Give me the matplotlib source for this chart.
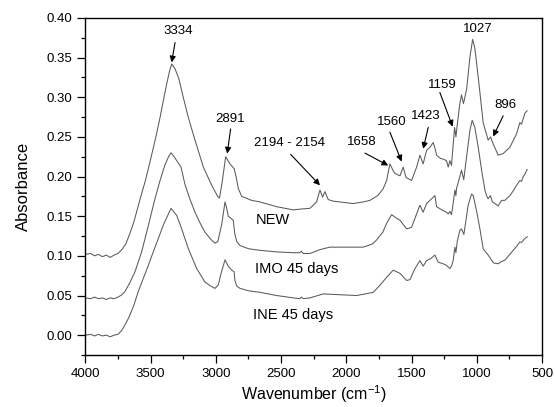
import matplotlib
matplotlib.use("Agg")
import matplotlib.pyplot as plt
from matplotlib.ticker import MultipleLocator

plt.rcParams['font.family'] = ['Liberation Sans', 'DejaVu Sans']
plt.rcParams['mathtext.default'] = 'regular'

# ---------------- data ----------------
new_x = [4000, 3960, 3930, 3900, 3870, 3840, 3810, 3780, 3750, 3720, 3690, 3660, 3630, 3600,
         3570, 3540, 3500, 3460, 3430, 3400, 3377, 3355, 3339, 3313, 3283, 3250, 3212, 3160,
         3096, 3032, 2986, 2972, 2950, 2925, 2892, 2860, 2845, 2828, 2802, 2726, 2662, 2534,
         2407, 2350, 2279, 2228, 2202, 2182, 2164, 2139, 2100, 2049, 1947, 1870, 1819, 1760,
         1720, 1691, 1666, 1640, 1628, 1589, 1564, 1543, 1500, 1461, 1436, 1411, 1385, 1359,
         1334, 1321, 1308, 1280, 1257, 1232, 1219, 1206, 1194, 1181, 1170, 1160, 1150, 1130,
         1117, 1102, 1078, 1053, 1032, 1015, 1002, 976, 951, 913, 894, 874, 836, 798, 746,
         695, 670, 657, 644, 631, 614]
new_y = [0.102, 0.103, 0.100, 0.102, 0.099, 0.101, 0.098, 0.101, 0.103, 0.108, 0.115, 0.128,
         0.142, 0.160, 0.178, 0.195, 0.222, 0.250, 0.273, 0.298, 0.317, 0.333, 0.342, 0.336,
         0.323, 0.300, 0.275, 0.246, 0.212, 0.189, 0.175, 0.173, 0.195, 0.225, 0.216, 0.210,
         0.200, 0.185, 0.175, 0.170, 0.168, 0.162, 0.158, 0.159, 0.160, 0.168, 0.183, 0.174,
         0.181, 0.171, 0.169, 0.168, 0.166, 0.168, 0.170, 0.176, 0.184, 0.195, 0.216, 0.207,
         0.204, 0.201, 0.212, 0.199, 0.195, 0.212, 0.227, 0.216, 0.233, 0.237, 0.243, 0.236,
         0.227, 0.223, 0.222, 0.220, 0.212, 0.220, 0.214, 0.240, 0.262, 0.250, 0.265, 0.292,
         0.303, 0.292, 0.310, 0.350, 0.373, 0.362, 0.344, 0.306, 0.268, 0.246, 0.250, 0.241,
         0.227, 0.229, 0.237, 0.254, 0.268, 0.266, 0.273, 0.280, 0.283]

imo_x = [4000, 3960, 3930, 3900, 3870, 3840, 3810, 3780, 3750, 3720, 3697, 3660, 3620, 3569,
         3518, 3467, 3428, 3390, 3360, 3344, 3320, 3300, 3267, 3237, 3200, 3160, 3120, 3084,
         3040, 3007, 2985, 2955, 2930, 2917, 2905, 2867, 2855, 2840, 2815, 2750, 2662, 2534,
         2407, 2356, 2345, 2330, 2279, 2200, 2126, 2000, 1870, 1800, 1768, 1720, 1691, 1653,
         1620, 1589, 1538, 1500, 1461, 1436, 1411, 1385, 1359, 1334, 1321, 1308, 1257, 1232,
         1219, 1206, 1194, 1181, 1168, 1160, 1155, 1130, 1117, 1100, 1078, 1053, 1035, 1015,
         989, 963, 938, 925, 913, 896, 880, 861, 836, 810, 785, 746, 721, 695, 670, 657, 644,
         631, 614]
imo_y = [0.047, 0.046, 0.048, 0.046, 0.047, 0.045, 0.047, 0.046, 0.048, 0.051, 0.055, 0.066,
         0.080, 0.105, 0.138, 0.172, 0.195, 0.215, 0.226, 0.230, 0.225, 0.220, 0.212, 0.190,
         0.172, 0.155, 0.141, 0.130, 0.121, 0.116, 0.118, 0.140, 0.168, 0.160, 0.150, 0.145,
         0.128, 0.118, 0.113, 0.109, 0.107, 0.105, 0.104, 0.104, 0.106, 0.103, 0.103, 0.108,
         0.111, 0.111, 0.111, 0.115, 0.120, 0.130, 0.141, 0.152, 0.148, 0.145, 0.134, 0.136,
         0.153, 0.164, 0.155, 0.166, 0.170, 0.174, 0.176, 0.162, 0.157, 0.155, 0.153, 0.156,
         0.152, 0.166, 0.183, 0.176, 0.185, 0.200, 0.208, 0.196, 0.225, 0.258, 0.271, 0.262,
         0.237, 0.208, 0.183, 0.176, 0.172, 0.176, 0.168, 0.166, 0.163, 0.170, 0.170, 0.176,
         0.182, 0.189, 0.195, 0.194, 0.200, 0.203, 0.209]

ine_x = [4000, 3960, 3930, 3900, 3870, 3840, 3810, 3780, 3750, 3722, 3700, 3671, 3630, 3595,
         3560, 3518, 3480, 3441, 3400, 3377, 3344, 3320, 3300, 3262, 3211, 3147, 3084, 3040,
         3007, 2982, 2960, 2930, 2905, 2879, 2860, 2854, 2840, 2815, 2750, 2662, 2534, 2407,
         2356, 2345, 2330, 2279, 2177, 2050, 1921, 1794, 1742, 1691, 1641, 1589, 1538, 1512,
         1474, 1436, 1411, 1385, 1350, 1321, 1296, 1257, 1232, 1206, 1194, 1181, 1168, 1160,
         1150, 1130, 1117, 1099, 1066, 1040, 1027, 1002, 976, 951, 913, 896, 887, 870, 836,
         810, 785, 721, 695, 670, 657, 631, 613]
ine_y = [0.000, 0.001, -0.001, 0.001, -0.001, 0.000, -0.002, 0.000, 0.001, 0.006, 0.012,
         0.021, 0.037, 0.055, 0.070, 0.088, 0.105, 0.122, 0.140, 0.148, 0.160, 0.155, 0.151,
         0.134, 0.109, 0.084, 0.067, 0.062, 0.059, 0.063, 0.078, 0.095, 0.087, 0.082, 0.080,
         0.069, 0.062, 0.059, 0.056, 0.054, 0.050, 0.047, 0.046, 0.048, 0.046, 0.047, 0.052,
         0.051, 0.050, 0.054, 0.063, 0.073, 0.082, 0.078, 0.069, 0.070, 0.084, 0.094, 0.087,
         0.094, 0.097, 0.101, 0.092, 0.090, 0.088, 0.084, 0.087, 0.094, 0.111, 0.104, 0.118,
         0.132, 0.134, 0.127, 0.164, 0.178, 0.176, 0.157, 0.134, 0.109, 0.101, 0.097, 0.0945,
         0.091, 0.090, 0.093, 0.0945, 0.107, 0.112, 0.1175, 0.117, 0.122, 0.124]

# peak labels: text, text position, arrow start, arrow tip (None = no arrow)
peak_labels = ["3334", "2891", "2194 - 2154", "1658", "1560", "1423", "1159", "1027", "896"]
label_pos = [(3288, 0.384), (2892, 0.273), (2438, 0.242), (1883, 0.244), (1653, 0.2687),
             (1392, 0.277), (1265, 0.315), (989, 0.386), (784, 0.2897)]
arrow_from = [(3313, 0.369), (2887, 0.260), (2427, 0.228), (1857, 0.2296), (1666, 0.256),
              (1372, 0.262), (1283, 0.306), None, (798, 0.2766)]
arrow_to = [(3339, 0.344), (2913, 0.229), (2202, 0.189), (1679, 0.214), (1576, 0.219),
            (1411, 0.235), (1185, 0.263), None, (874, 0.2506)]

series_names = ["NEW", "IMO 45 days", "INE 45 days"]
series_label_pos = [(2692, 0.1448), (2700, 0.083), (2713, 0.0252)]

# ---------------- plot ----------------
fig = plt.figure(figsize=(5.55, 4.07), dpi=100)
ax = fig.add_axes([0.1539, 0.1278, 0.8227, 0.828])

line_color = '#5a5a5a'
for xs, ys in [(new_x, new_y), (imo_x, imo_y), (ine_x, ine_y)]:
    ax.plot(xs, ys, color=line_color, lw=0.75)

ax.set_xlim(4000, 500)
ax.set_ylim(-0.025, 0.40)
ax.xaxis.set_major_locator(MultipleLocator(500))
ax.xaxis.set_minor_locator(MultipleLocator(250))
ax.yaxis.set_major_locator(MultipleLocator(0.05))
ax.yaxis.set_minor_locator(MultipleLocator(0.025))
ax.yaxis.set_major_formatter(matplotlib.ticker.FormatStrFormatter('%.2f'))
ax.tick_params(which='major', direction='out', length=6, width=0.9, labelsize=9.5)
ax.tick_params(which='minor', direction='out', length=3, width=0.9)
for s in ax.spines.values():
    s.set_linewidth(1.0)

ax.set_xlabel('Wavenumber (cm$^{-1}$)', fontsize=11.5, labelpad=2)
ax.set_ylabel('Absorbance', fontsize=12, labelpad=11)

for txt, pos, a0, a1 in zip(peak_labels, label_pos, arrow_from, arrow_to):
    ax.text(pos[0], pos[1], txt, fontsize=9.5, ha='center', va='center')
    if a0 is not None:
        ax.annotate('', xy=a1, xytext=a0,
                    arrowprops=dict(arrowstyle='-|>', color='k', lw=0.8,
                                    mutation_scale=9, shrinkA=0, shrinkB=0))

for name, pos in zip(series_names, series_label_pos):
    ax.text(pos[0], pos[1], name, fontsize=10.5, ha='left', va='center')

fig.savefig('out.png', dpi=100)
